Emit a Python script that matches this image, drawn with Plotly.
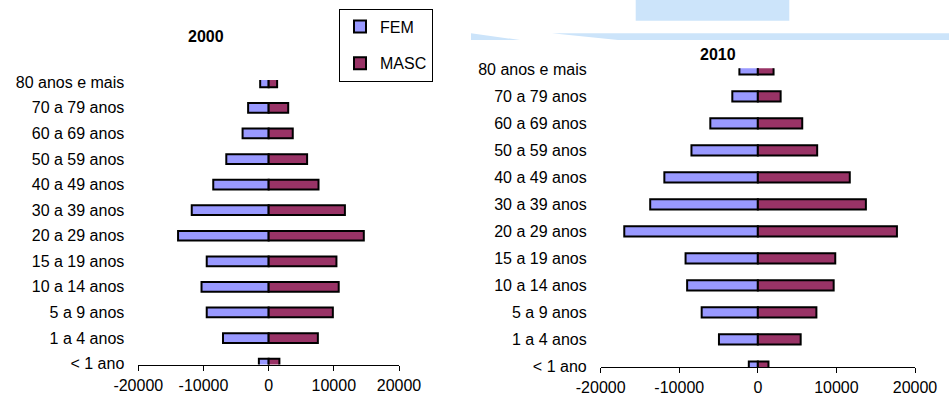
import plotly.graph_objects as go

categories = ["< 1 ano", "1 a 4 anos", "5 a 9 anos", "10 a 14 anos", "15 a 19 anos",
              "20 a 29 anos", "30 a 39 anos", "40 a 49 anos", "50 a 59 anos",
              "60 a 69 anos", "70 a 79 anos", "80 anos e mais"]

fem_2000 = [-1500, -7000, -9500, -10300, -9500, -13900, -11800, -8500, -6500, -4000, -3150, -1300]
masc_2000 = [1650, 7550, 9850, 10750, 10400, 14600, 11700, 7650, 5900, 3700, 3000, 1300]

fem_2010 = [-1150, -4950, -7150, -9000, -9200, -17000, -13700, -11900, -8450, -6050, -3250, -2350]
masc_2010 = [1350, 5450, 7450, 9650, 9850, 17700, 13750, 11700, 7550, 5650, 2900, 2000]

x_ticks = [-20000, -10000, 0, 10000, 20000]
x_tick_labels = ["-20000", "-10000", "0", "10000", "20000"]

FEM_COLOR = "#9999FF"
MASC_COLOR = "#993366"
FONT = "Liberation Sans, Arial, sans-serif"

fig = go.Figure()

def add_pair(fem, masc, xa, ya, show):
    fig.add_trace(go.Bar(y=categories, x=fem, orientation="h", name="FEM",
                         marker=dict(color=FEM_COLOR, line=dict(color="black", width=2)),
                         xaxis=xa, yaxis=ya, showlegend=show, legendgroup="f"))
    fig.add_trace(go.Bar(y=categories, x=masc, orientation="h", name="MASC",
                         marker=dict(color=MASC_COLOR, line=dict(color="black", width=2)),
                         xaxis=xa, yaxis=ya, showlegend=show, legendgroup="m"))

add_pair(fem_2000, masc_2000, "x", "y", True)
add_pair(fem_2010, masc_2010, "x2", "y2", False)

xcommon = dict(range=[-20000, 20000], tickvals=x_ticks, ticktext=x_tick_labels,
               showline=True, linecolor="black", linewidth=1, ticks="outside",
               ticklen=5, tickcolor="black", showgrid=False, zeroline=False,
               tickfont=dict(size=16, color="black", family=FONT), ticklabelstandoff=1,
               fixedrange=True, automargin=False)
ycommon = dict(type="category", categoryorder="array", categoryarray=categories,
               showline=False, showgrid=False, zeroline=False, ticks="",
               tickfont=dict(size=16, color="black", family=FONT), ticklabelstandoff=13,
               fixedrange=True, automargin=False)

fig.update_layout(
    template="none",
    width=949, height=396,
    margin=dict(l=0, r=0, t=0, b=0, autoexpand=False),
    paper_bgcolor="white", plot_bgcolor="white",
    barmode="relative", bargap=0.62,
    font=dict(family=FONT, size=16, color="black"),
    xaxis=dict(domain=[138.3 / 949, 399 / 949], anchor="y", **xcommon),
    yaxis=dict(domain=[1 - 364.5 / 396, 1 - 80 / 396], anchor="x",
               range=[-0.035, 11.09], **ycommon),
    xaxis2=dict(domain=[600.7 / 949, 915 / 949], anchor="y2", **xcommon),
    yaxis2=dict(domain=[1 - 367 / 396, 1 - 68.3 / 396], anchor="x2",
                range=[-0.018, 11.035], **ycommon),
    legend=dict(x=339 / 949, y=1 - 8.5 / 396, xanchor="left", yanchor="top",
                bordercolor="black", borderwidth=1, bgcolor="white",
                font=dict(size=16, color="black", family=FONT),
                tracegroupgap=13, traceorder="grouped"),
    annotations=[
        dict(text="<b>2000</b>", x=205.8 / 949, y=1 - 36.7 / 396, xref="paper", yref="paper",
             showarrow=False, font=dict(size=16, color="black", family=FONT),
             xanchor="center", yanchor="middle"),
        dict(text="<b>2010</b>", x=717.7 / 949, y=1 - 55 / 396, xref="paper", yref="paper",
             showarrow=False, font=dict(size=16, color="black", family=FONT),
             xanchor="center", yanchor="middle"),
    ],
    shapes=[
        dict(type="rect", xref="paper", yref="paper", layer="below",
             x0=635.7 / 949, x1=789.3 / 949, y0=1 - 20.7 / 396, y1=1.0,
             fillcolor="rgb(204,228,250)", line=dict(width=0)),
        dict(type="path", xref="paper", yref="paper", layer="below",
             path="M {a},{t} L {b},{bt} L {a},{bt} Z".format(
                 a=471 / 949, b=520 / 949, t=1 - 33.3 / 396, bt=1 - 40 / 396),
             fillcolor="rgb(204,228,250)", line=dict(width=0)),
        dict(type="path", xref="paper", yref="paper", layer="below",
             path="M {a},{t} L {e},{t} L {e},{bt} L {c},{bt} Z".format(
                 a=552 / 949, c=618 / 949, e=1.0, t=1 - 33.3 / 396, bt=1 - 40 / 396),
             fillcolor="rgb(204,228,250)", line=dict(width=0)),
    ],
)

fig.write_html("out.html", config={"displayModeBar": False},
               post_script="document.body.style.margin='0';")
